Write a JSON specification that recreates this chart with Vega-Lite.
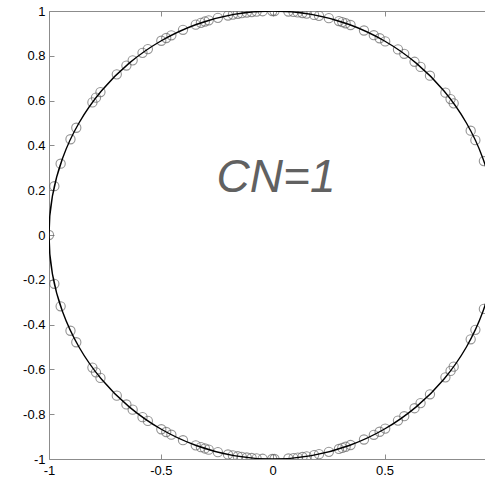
{
  "$schema": "https://vega.github.io/schema/vega-lite/v6.json",
  "width": 436,
  "height": 448,
  "autosize": {"type": "none"},
  "padding": {"left": 49, "top": 11, "right": 0, "bottom": 19},
  "background": "white",
  "config": {
    "view": {"stroke": null},
    "axis": {
      "grid": false,
      "domainColor": "#8c8c8c",
      "tickColor": "#8c8c8c",
      "domainWidth": 1,
      "tickWidth": 1,
      "tickSize": -5,
      "labelFont": "Liberation Sans",
      "labelFontSize": 13,
      "labelColor": "#000000",
      "labelFlush": false,
      "labelOverlap": false,
      "labelExpr": "datum.value < 0 ? '-' + format(-datum.value, '~g') : format(datum.value, '~g')",
      "title": null
    }
  },
  "datasets": {
    "unitCircle": [
      {"deg": 0, "re": 1, "im": 0},
      {"deg": 10, "re": 0.98481, "im": 0.17365},
      {"deg": 20, "re": 0.93969, "im": 0.34202},
      {"deg": 30, "re": 0.86603, "im": 0.5},
      {"deg": 40, "re": 0.76604, "im": 0.64279},
      {"deg": 50, "re": 0.64279, "im": 0.76604},
      {"deg": 60, "re": 0.5, "im": 0.86603},
      {"deg": 70, "re": 0.34202, "im": 0.93969},
      {"deg": 80, "re": 0.17365, "im": 0.98481},
      {"deg": 90, "re": 0, "im": 1},
      {"deg": 100, "re": -0.17365, "im": 0.98481},
      {"deg": 110, "re": -0.34202, "im": 0.93969},
      {"deg": 120, "re": -0.5, "im": 0.86603},
      {"deg": 130, "re": -0.64279, "im": 0.76604},
      {"deg": 140, "re": -0.76604, "im": 0.64279},
      {"deg": 150, "re": -0.86603, "im": 0.5},
      {"deg": 160, "re": -0.93969, "im": 0.34202},
      {"deg": 170, "re": -0.98481, "im": 0.17365},
      {"deg": 180, "re": -1, "im": 0},
      {"deg": 190, "re": -0.98481, "im": -0.17365},
      {"deg": 200, "re": -0.93969, "im": -0.34202},
      {"deg": 210, "re": -0.86603, "im": -0.5},
      {"deg": 220, "re": -0.76604, "im": -0.64279},
      {"deg": 230, "re": -0.64279, "im": -0.76604},
      {"deg": 240, "re": -0.5, "im": -0.86603},
      {"deg": 250, "re": -0.34202, "im": -0.93969},
      {"deg": 260, "re": -0.17365, "im": -0.98481},
      {"deg": 270, "re": 0, "im": -1},
      {"deg": 280, "re": 0.17365, "im": -0.98481},
      {"deg": 290, "re": 0.34202, "im": -0.93969},
      {"deg": 300, "re": 0.5, "im": -0.86603},
      {"deg": 310, "re": 0.64279, "im": -0.76604},
      {"deg": 320, "re": 0.76604, "im": -0.64279},
      {"deg": 330, "re": 0.86603, "im": -0.5},
      {"deg": 340, "re": 0.93969, "im": -0.34202},
      {"deg": 350, "re": 0.98481, "im": -0.17365},
      {"deg": 360, "re": 1, "im": 0}
    ],
    "eigenvalues": [
      {"re": -1, "im": 0}, {"re": 1, "im": 0},
      {"re": -0.976, "im": 0.2178}, {"re": -0.976, "im": -0.2178},
      {"re": -0.948, "im": 0.3183}, {"re": -0.948, "im": -0.3183},
      {"re": -0.904, "im": 0.4275}, {"re": -0.904, "im": -0.4275},
      {"re": -0.878, "im": 0.4787}, {"re": -0.878, "im": -0.4787},
      {"re": -0.806, "im": 0.5919}, {"re": -0.806, "im": -0.5919},
      {"re": -0.79, "im": 0.6131}, {"re": -0.79, "im": -0.6131},
      {"re": -0.77, "im": 0.638}, {"re": -0.77, "im": -0.638},
      {"re": -0.697, "im": 0.7171}, {"re": -0.697, "im": -0.7171},
      {"re": -0.654, "im": 0.7565}, {"re": -0.654, "im": -0.7565},
      {"re": -0.626, "im": 0.7798}, {"re": -0.626, "im": -0.7798},
      {"re": -0.582, "im": 0.8132}, {"re": -0.582, "im": -0.8132},
      {"re": -0.558, "im": 0.8298}, {"re": -0.558, "im": -0.8298},
      {"re": -0.498, "im": 0.8672}, {"re": -0.498, "im": -0.8672},
      {"re": -0.476, "im": 0.8794}, {"re": -0.476, "im": -0.8794},
      {"re": -0.453, "im": 0.8915}, {"re": -0.453, "im": -0.8915},
      {"re": -0.401, "im": 0.9161}, {"re": -0.401, "im": -0.9161},
      {"re": -0.344, "im": 0.939}, {"re": -0.344, "im": -0.939},
      {"re": -0.321, "im": 0.9471}, {"re": -0.321, "im": -0.9471},
      {"re": -0.303, "im": 0.953}, {"re": -0.303, "im": -0.953},
      {"re": -0.286, "im": 0.9582}, {"re": -0.286, "im": -0.9582},
      {"re": -0.245, "im": 0.9695}, {"re": -0.245, "im": -0.9695},
      {"re": -0.2, "im": 0.9798}, {"re": -0.2, "im": -0.9798},
      {"re": -0.178, "im": 0.984}, {"re": -0.178, "im": -0.984},
      {"re": -0.156, "im": 0.9878}, {"re": -0.156, "im": -0.9878},
      {"re": -0.138, "im": 0.9904}, {"re": -0.138, "im": -0.9904},
      {"re": -0.116, "im": 0.9933}, {"re": -0.116, "im": -0.9933},
      {"re": -0.094, "im": 0.9956}, {"re": -0.094, "im": -0.9956},
      {"re": -0.072, "im": 0.9974}, {"re": -0.072, "im": -0.9974},
      {"re": -0.045, "im": 0.999}, {"re": -0.045, "im": -0.999},
      {"re": -0.002, "im": 1}, {"re": -0.002, "im": -1},
      {"re": 0.008, "im": 1}, {"re": 0.008, "im": -1},
      {"re": 0.07, "im": 0.9975}, {"re": 0.07, "im": -0.9975},
      {"re": 0.093, "im": 0.9957}, {"re": 0.093, "im": -0.9957},
      {"re": 0.112, "im": 0.9937}, {"re": 0.112, "im": -0.9937},
      {"re": 0.133, "im": 0.9911}, {"re": 0.133, "im": -0.9911},
      {"re": 0.152, "im": 0.9884}, {"re": 0.152, "im": -0.9884},
      {"re": 0.185, "im": 0.9827}, {"re": 0.185, "im": -0.9827},
      {"re": 0.207, "im": 0.9783}, {"re": 0.207, "im": -0.9783},
      {"re": 0.251, "im": 0.968}, {"re": 0.251, "im": -0.968},
      {"re": 0.296, "im": 0.9552}, {"re": 0.296, "im": -0.9552},
      {"re": 0.311, "im": 0.9504}, {"re": 0.311, "im": -0.9504},
      {"re": 0.326, "im": 0.9454}, {"re": 0.326, "im": -0.9454},
      {"re": 0.348, "im": 0.9375}, {"re": 0.348, "im": -0.9375},
      {"re": 0.408, "im": 0.913}, {"re": 0.408, "im": -0.913},
      {"re": 0.452, "im": 0.892}, {"re": 0.452, "im": -0.892},
      {"re": 0.478, "im": 0.8784}, {"re": 0.478, "im": -0.8784},
      {"re": 0.503, "im": 0.8643}, {"re": 0.503, "im": -0.8643},
      {"re": 0.56, "im": 0.8285}, {"re": 0.56, "im": -0.8285},
      {"re": 0.588, "im": 0.8089}, {"re": 0.588, "im": -0.8089},
      {"re": 0.634, "im": 0.7733}, {"re": 0.634, "im": -0.7733},
      {"re": 0.661, "im": 0.7504}, {"re": 0.661, "im": -0.7504},
      {"re": 0.703, "im": 0.7112}, {"re": 0.703, "im": -0.7112},
      {"re": 0.772, "im": 0.6356}, {"re": 0.772, "im": -0.6356},
      {"re": 0.795, "im": 0.6066}, {"re": 0.795, "im": -0.6066},
      {"re": 0.809, "im": 0.5878}, {"re": 0.809, "im": -0.5878},
      {"re": 0.885, "im": 0.4656}, {"re": 0.885, "im": -0.4656},
      {"re": 0.906, "im": 0.4233}, {"re": 0.906, "im": -0.4233},
      {"re": 0.944, "im": 0.3299}, {"re": 0.944, "im": -0.3299}
    ],
    "annotation": [{"re": 0.015, "im": 0.19, "label": "CN=1"}]
  },
  "layer": [
    {
      "data": {"name": "eigenvalues"},
      "mark": {"type": "point", "shape": "circle", "filled": false, "size": 85, "stroke": "#666666", "strokeWidth": 1.1, "clip": true},
      "encoding": {
        "x": {"field": "re", "type": "quantitative", "scale": {"domain": [-1, 0.949], "nice": false, "zero": false},
              "axis": {"orient": "bottom", "values": [-1, -0.5, 0, 0.5], "labelPadding": 10}},
        "y": {"field": "im", "type": "quantitative", "scale": {"domain": [-1, 1], "nice": false, "zero": false},
              "axis": {"orient": "left", "values": [-1, -0.8, -0.6, -0.4, -0.2, 0, 0.2, 0.4, 0.6, 0.8, 1], "labelPadding": 9}}
      }
    },
    {
      "data": {"name": "unitCircle"},
      "mark": {"type": "line", "color": "#000000", "strokeWidth": 1.4, "interpolate": "cardinal", "clip": true},
      "encoding": {
        "x": {"field": "re", "type": "quantitative", "axis": null},
        "y": {"field": "im", "type": "quantitative", "axis": null},
        "order": {"field": "deg", "type": "quantitative"}
      }
    },
    {
      "data": {"name": "annotation"},
      "mark": {"type": "text", "font": "Liberation Sans", "fontStyle": "italic", "fontSize": 46, "color": "#616161", "align": "center", "baseline": "alphabetic"},
      "encoding": {
        "x": {"field": "re", "type": "quantitative",
              "axis": {"orient": "top", "values": [-1, -0.5, 0, 0.5], "labels": false, "domain": true}},
        "y": {"field": "im", "type": "quantitative", "axis": null},
        "text": {"field": "label"}
      }
    }
  ],
  "resolve": {"axis": {"x": "independent", "y": "independent"}}
}
